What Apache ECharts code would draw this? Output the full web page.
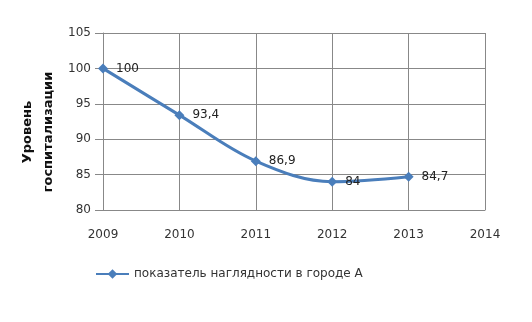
<!DOCTYPE html>
<html><head><meta charset="utf-8">
<script src="https://cdn.jsdelivr.net/npm/echarts@6/dist/echarts.min.js"></script>
<style>html,body{margin:0;padding:0;background:#fff}#c{width:532px;height:322px}</style>
</head><body><div id="c"></div>
<script>
var years = [2009, 2010, 2011, 2012, 2013];
var values = [100, 93.4, 86.9, 84, 84.7];
var seriesName = 'показатель наглядности в городе А';
var yTitle = 'Уровень\nгоспитализации';

var chart = echarts.init(document.getElementById('c'));
var font = 'DejaVu Sans';
chart.setOption({
  animation: false,
  backgroundColor: '#fff',
  grid: {left: 103, top: 33, width: 382, height: 177},
  legend: {
    left: 90, top: 263, itemWidth: 33, itemHeight: 12, itemGap: 4,
    textStyle: {fontFamily: font, fontSize: 12, color: '#333'},
    data: [seriesName]
  },
  graphic: [{
    type: 'text', x: 38, y: 132, rotation: Math.PI / 2,
    style: {text: yTitle, font: 'bold 13px "DejaVu Sans"', fill: '#111',
      align: 'center', verticalAlign: 'middle', lineHeight: 21}
  }],
  xAxis: {
    type: 'value', min: 2009, max: 2014, interval: 1,
    axisLine: {lineStyle: {color: '#888'}},
    axisTick: {show: false},
    splitLine: {show: true, lineStyle: {color: '#888'}},
    axisLabel: {fontFamily: font, fontSize: 12, color: '#333', margin: 19, formatter: function(v){return String(v);}}
  },
  yAxis: {
    type: 'value', min: 80, max: 105, interval: 5,
    axisLine: {show: true, lineStyle: {color: '#888'}},
    axisTick: {show: true, length: 8, lineStyle: {color: '#888'}},
    splitLine: {show: true, lineStyle: {color: '#888'}},
    axisLabel: {fontFamily: font, fontSize: 12, color: '#333', margin: 12}
  },
  series: [{
    name: seriesName, type: 'line', smooth: 0.35,
    data: years.map(function(y, i){return [y, values[i]];}),
    symbol: 'diamond', symbolSize: 10,
    lineStyle: {color: '#4a7ebb', width: 3},
    itemStyle: {color: '#4a7ebb'},
    label: {show: true, position: 'right', distance: 8, fontFamily: font, fontSize: 12, color: '#222',
      formatter: function(p){return String(p.value[1]).replace('.', ',');}}
  }]
});
</script></body></html>
